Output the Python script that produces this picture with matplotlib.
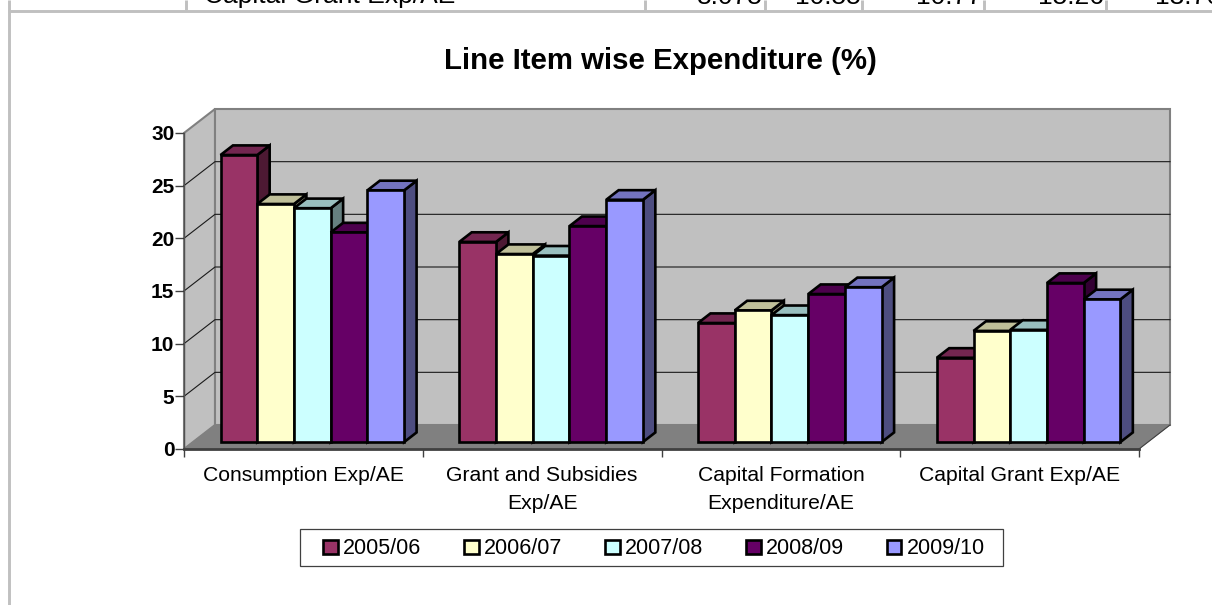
import matplotlib
matplotlib.use("Agg")
import matplotlib.pyplot as plt
from matplotlib.patches import Polygon, Patch, Rectangle
from matplotlib.lines import Line2D

plt.rcParams['font.family'] = ['Liberation Sans', 'DejaVu Sans']

categories = ["Consumption Exp/AE", "Grant and Subsidies\nExp/AE",
              "Capital Formation\nExpenditure/AE", "Capital Grant Exp/AE"]
years = ["2005/06", "2006/07", "2007/08", "2008/09", "2009/10"]
v2005 = [27.25, 19.0, 11.3, 8.0]
v2006 = [22.6, 17.85, 12.5, 10.55]
v2007 = [22.2, 17.7, 12.05, 10.65]
v2008 = [19.9, 20.5, 14.05, 15.1]
v2009 = [23.9, 23.0, 14.7, 13.55]
series = [v2005, v2006, v2007, v2008, v2009]
yticks = [0, 5, 10, 15, 20, 25, 30]
row_label = "Capital Grant Exp/AE"
row_vals = ["8.075", "10.55", "10.77", "15.26", "13.76"]

front = ["#993366", "#FFFFCC", "#CCFFFF", "#660066", "#9999FF"]
top = ["#732650", "#BFBF99", "#99BFBF", "#4D004D", "#7373BF"]
side = ["#4D1933", "#808066", "#668080", "#330033", "#4D4D80"]
W, H = 1212, 605
fig = plt.figure(figsize=(W / 100, H / 100), dpi=100, facecolor="white")
L, R, T, B = 184, 1139, 133, 449
ax = fig.add_axes([L / W, 1 - B / H, (R - L) / W, (B - T) / H])
ax.set_xlim(0, 4)
ax.set_ylim(0, 30)
ax.patch.set_visible(False)
DX = 31 / ((R - L) / 4)
DY = 24 / ((B - T) / 30)


def pr(x, y, d):
    return (x + d * DX, y + d * DY)


def poly(pts, **kw):
    p = Polygon(pts, closed=True, clip_on=False, **kw)
    ax.add_patch(p)
    return p


# walls and floor
poly([pr(0, 0, 0), pr(0, 30, 0), pr(0, 30, 1), pr(0, 0, 1)], fc="#C0C0C0", ec="#808080", lw=1.5, zorder=1)
poly([pr(0, 0, 1), pr(0, 30, 1), pr(4, 30, 1), pr(4, 0, 1)], fc="#C0C0C0", ec="#808080", lw=1.5, zorder=1)
poly([pr(0, 0, 0), pr(0, 0, 1), pr(4, 0, 1), pr(4, 0, 0)], fc="#808080", ec="#808080", lw=0.5, zorder=1.5)
a, b = pr(4, 0, 0), pr(4, 0, 1)
ax.plot([a[0], b[0]], [a[1], b[1]], color="#404040", lw=0.8, clip_on=False, zorder=1.6)
for v in yticks[1:-1]:
    a, b, c = pr(0, v, 0), pr(0, v, 1), pr(4, v, 1)
    ax.plot([a[0], b[0], c[0]], [a[1], b[1], c[1]], color="#1a1a1a", lw=0.8, clip_on=False, zorder=2)

# bars
n = len(series)
bw = 1 / (n + 1.5)
d0, d1 = 0.29, 0.69
z = 3
for g in range(len(categories)):
    for s in range(n):
        v = series[s][g]
        x0 = g + (0.75 + s) * bw
        x1 = x0 + bw
        kw = dict(ec="black", lw=1.9, joinstyle="miter")
        poly([pr(x1, 0, d0), pr(x1, v, d0), pr(x1, v, d1), pr(x1, 0, d1)], fc=side[s], zorder=z, **kw)
        poly([pr(x0, v, d0), pr(x1, v, d0), pr(x1, v, d1), pr(x0, v, d1)], fc=top[s], zorder=z, **kw)
        fx, fy = pr(x0, 0, d0)
        ax.bar(fx, v, bw, bottom=fy, align="edge", color=front[s], edgecolor="black",
               linewidth=1.9, clip_on=False, zorder=z + 0.1)
        z += 0.2

# axes
for sp in ("top", "right"):
    ax.spines[sp].set_visible(False)
ax.spines["left"].set_color("#505050")
ax.spines["left"].set_linewidth(1.0)
ax.spines["bottom"].set_color("#404040")
ax.spines["bottom"].set_linewidth(2.0)
ax.spines["left"].set_zorder(2.5)
ax.spines["bottom"].set_zorder(2.5)
ax.set_yticks(yticks)
ax.set_yticklabels([str(v) for v in yticks], fontsize=15, fontweight="bold")
ax.tick_params(axis="y", length=6.5, width=1, color="#404040", pad=0.5)
ax.set_xticks(range(len(categories) + 1))
ax.set_xticklabels([""] * (len(categories) + 1))
ax.tick_params(axis="x", which="major", length=5.5, width=1, color="#404040")
ax.set_xticks([i + 0.5 for i in range(len(categories))], minor=True)
ax.set_xticklabels(categories, minor=True, fontsize=15.2, linespacing=1.55, va="top")
ax.tick_params(axis="x", which="minor", length=0, pad=12.5)

fig.text(660 / W, 1 - 61 / H, "Line Item wise Expenditure (%)", fontsize=21.2,
         fontweight="bold", ha="center", va="center")

# legend box, drawn separately because it is wider than it is padded high
fig.add_artist(Rectangle((300 / W, 1 - 566 / H), 703 / W, 37 / H, transform=fig.transFigure,
                         fc="white", ec="#404040", lw=0.9, zorder=-1))
handles = [Patch(fc=c, ec="black", lw=1.9) for c in front]
leg = ax.legend(handles, years, ncol=5, loc="center", bbox_to_anchor=(654 / W, 1 - 549 / H),
                bbox_transform=fig.transFigure, fontsize=15.5, frameon=False,
                handlelength=0.68, handleheight=0.68,
                handletextpad=0.24, columnspacing=1.985, borderpad=0, borderaxespad=0)
leg.set_zorder(5)

# enclosing table fragment
grey = "#C0C0C0"
tbl_h = [([8, 1212], [10.5, 10.5])]
tbl_v = [([8.5, 8.5], [0, 605]), ([186, 186], [0, 10]), ([645, 645], [0, 10]), ([765, 765], [0, 10]),
         ([862, 862], [0, 10]), ([984, 984], [0, 10]), ([1106, 1106], [0, 10])]
for xs, ys in tbl_h + tbl_v:
    fig.add_artist(Line2D([x / W for x in xs], [1 - y / H for y in ys], color=grey, lw=2.1, solid_capstyle="butt"))
fig.text(204 / W, 1 - 3.5 / H, row_label, fontsize=19, ha="left", va="baseline")
row_x = [763, 861, 982, 1104, 1221]
for v, x in zip(row_vals, row_x):
    fig.text(x / W, 1 - 3.5 / H, v, fontsize=19, ha="right", va="baseline")

fig.savefig("out.png", dpi=100)
